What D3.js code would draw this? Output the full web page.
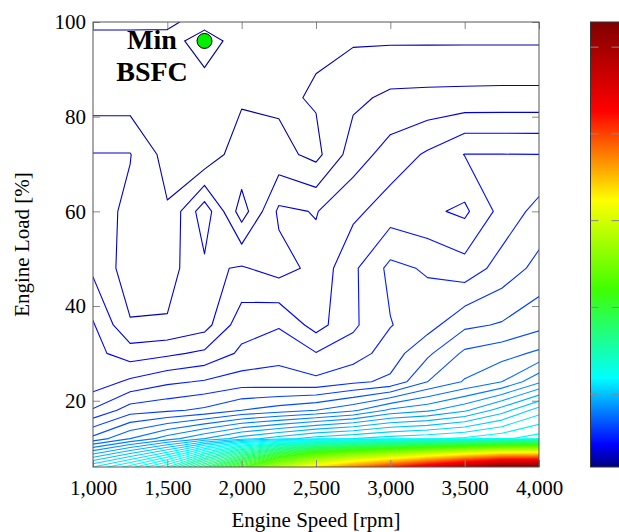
<!DOCTYPE html>
<html>
<head>
<meta charset="utf-8">
<script src="https://cdn.jsdelivr.net/npm/d3@7/dist/d3.min.js"></script>
<style>
  body { margin: 0; background: #fff; }
  text { font-family: "Liberation Serif", "Times New Roman", serif; }
</style>
</head>
<body>
<script>
// grid of the engine map
const speeds = [1000, 1250, 1500, 1750, 2000, 2250, 2500, 2750, 3000, 3250, 3500, 3750, 4000];
const loads = [6, 12, 18, 24, 30, 36, 48, 60, 72, 84, 96, 100];

// BSFC [g/kWh], one array per load row (same order as speeds)
const bsfcLoad6   = [420, 445, 480, 550, 640, 760, 870, 950, 1020, 1100, 1180, 1255, 1258];
const bsfcLoad12  = [333, 350, 365, 380, 395, 405, 415, 420, 425, 428, 432, 438, 445];
const bsfcLoad18  = [301, 315, 318, 322, 330, 335, 340, 348, 362, 368, 378, 395, 415];
const bsfcLoad24  = [284, 292, 298, 301, 305, 304, 302.6, 308, 312, 330, 341, 350, 368];
const bsfcLoad30  = [283, 275, 278, 282, 292, 297, 290.5, 295, 305, 318, 332, 336, 342];
const bsfcLoad36  = [281, 260.8, 261, 266, 286, 289, 276, 288.2, 299.5, 306, 317.8, 321, 326.9];
const bsfcLoad48  = [268, 255, 256, 268, 271, 266, 272.9, 288, 302.6, 298.8, 294, 304, 313.1];
const bsfcLoad60  = [264, 258, 251, 276, 245, 271.9, 269.5, 277.6, 285, 282, 278, 293.6, 303.5];
const bsfcLoad72  = [260.4, 260.4, 246, 241, 258, 253.4, 247, 265, 274.3, 281.4, 290.3, 290.2, 290.1];
const bsfcLoad84  = [245.2, 245.2, 247, 249, 248, 248, 251.1, 257.8, 262, 262.5, 262.8, 263, 263];
const bsfcLoad96  = [247, 247, 247, 232, 248, 248, 248.5, 249, 249, 249, 249, 249, 249];
const bsfcLoad100 = [252.2, 252.2, 252, 246, 248, 248.5, 249, 249, 249, 249, 249, 249, 249];

const bsfc = [bsfcLoad6, bsfcLoad12, bsfcLoad18, bsfcLoad24, bsfcLoad30, bsfcLoad36,
              bsfcLoad48, bsfcLoad60, bsfcLoad72, bsfcLoad84, bsfcLoad96, bsfcLoad100];

// contour levels and the marked optimum
const levels = d3.range(240, 1260, 10);
const minPoint = {speed: 1750, load: 96};
const xTicks = [1000, 1500, 2000, 2500, 3000, 3500, 4000];
const yTicks = [20, 40, 60, 80, 100];
const cbarTicks = [400, 600, 800, 1000, 1200];

const W = 619, H = 532;
const pLeft = 93, pRight = 539, pTop = 22, pBottom = 467;

const svg = d3.select("body").append("svg")
    .attr("width", W)
    .attr("height", H);

const x = d3.scaleLinear().domain([1000, 4000]).range([pLeft, pRight]);
const y = d3.scaleLinear().domain([6, 100]).range([pBottom, pTop]);

const zMin = d3.min(bsfc.flat()), zMax = d3.max(bsfc.flat());
const cmapStops = [0, 0.05, 0.2, 0.4, 0.6, 0.8, 1];
const cmapColors = ["#000080", "#0000ff", "#00ffff", "#40ff00", "#ffff00", "#ff0000", "#800000"];
const color = d3.scaleLinear()
    .domain(cmapStops.map(s => zMin + s * (zMax - zMin)))
    .range(cmapColors)
    .interpolate(d3.interpolateRgb);

// marching squares, straight segments inside each grid cell
function isoSegments(level) {
  const segs = [];
  const lerp = (p0, p1, v0, v1) => p0 + (level - v0) / (v1 - v0) * (p1 - p0);
  for (let j = 0; j < loads.length - 1; j++) {
    for (let i = 0; i < speeds.length - 1; i++) {
      const x0 = speeds[i], x1 = speeds[i + 1], y0 = loads[j], y1 = loads[j + 1];
      const a = bsfc[j][i], b = bsfc[j][i + 1], c = bsfc[j + 1][i + 1], d = bsfc[j + 1][i];
      const up = v => v >= level;
      const p = [null, null, null, null];
      if (up(a) !== up(b)) p[0] = [lerp(x0, x1, a, b), y0];
      if (up(b) !== up(c)) p[1] = [x1, lerp(y0, y1, b, c)];
      if (up(c) !== up(d)) p[2] = [lerp(x1, x0, c, d), y1];
      if (up(d) !== up(a)) p[3] = [x0, lerp(y1, y0, d, a)];
      const found = p.filter(q => q);
      if (found.length === 2) {
        segs.push(found);
      } else if (found.length === 4) {
        const centre = (a + b + c + d) / 4;
        if (up(centre) === up(a)) {
          segs.push([p[0], p[1]], [p[2], p[3]]);
        } else {
          segs.push([p[3], p[0]], [p[1], p[2]]);
        }
      }
    }
  }
  return segs;
}

svg.append("clipPath").attr("id", "plot-clip")
  .append("rect")
    .attr("x", pLeft).attr("y", pTop)
    .attr("width", pRight - pLeft).attr("height", pBottom - pTop);

const lines = svg.append("g").attr("clip-path", "url(#plot-clip)");

lines.selectAll("path")
  .data(levels)
  .join("path")
    .attr("d", lv => isoSegments(lv)
        .map(s => "M" + x(s[0][0]) + "," + y(s[0][1]) + "L" + x(s[1][0]) + "," + y(s[1][1]))
        .join(""))
    .attr("fill", "none")
    .attr("stroke", lv => color(lv))
    .attr("stroke-width", 1.1)
    .attr("stroke-linecap", "round");

// axes: ticks inside on all four sides
function styleAxis(g) {
  g.select(".domain").remove();
  g.selectAll(".tick line").attr("stroke", "#888");
  g.selectAll(".tick text").attr("fill", "#000").attr("font-size", 21)
    .style("font-family", "'Liberation Serif', serif");
}

svg.append("g")
    .attr("transform", `translate(0,${pBottom})`)
    .call(d3.axisBottom(x).tickValues(xTicks).tickSize(-7).tickPadding(13).tickFormat(d3.format(",")))
    .call(styleAxis);
svg.append("g")
    .attr("transform", `translate(0,${pTop})`)
    .call(d3.axisTop(x).tickValues(xTicks).tickSize(-7).tickFormat(""))
    .call(styleAxis);
svg.append("g")
    .attr("transform", `translate(${pLeft},0)`)
    .call(d3.axisLeft(y).tickValues(yTicks).tickSize(-7).tickPadding(7))
    .call(styleAxis);
svg.append("g")
    .attr("transform", `translate(${pRight},0)`)
    .call(d3.axisRight(y).tickValues(yTicks).tickSize(-7).tickFormat(""))
    .call(styleAxis);

svg.append("rect")
    .attr("x", pLeft).attr("y", pTop)
    .attr("width", pRight - pLeft).attr("height", pBottom - pTop)
    .attr("fill", "none")
    .attr("stroke", "#555")
    .attr("stroke-width", 1);

// minimum marker and its two-line label
svg.append("circle")
    .attr("cx", x(minPoint.speed))
    .attr("cy", y(minPoint.load))
    .attr("r", 7.5)
    .attr("fill", "#00ee00")
    .attr("stroke", "#000")
    .attr("stroke-width", 1);

const minLabel = svg.append("text")
    .attr("text-anchor", "middle")
    .attr("font-size", 28)
    .attr("font-weight", "bold");
minLabel.append("tspan").attr("x", 152).attr("y", 49).text("Min");
minLabel.append("tspan").attr("x", 152).attr("y", 80.5).text("BSFC");

// axis labels
svg.append("text")
    .attr("x", (pLeft + pRight) / 2).attr("y", 527)
    .attr("text-anchor", "middle")
    .attr("font-size", 21)
    .text("Engine Speed [rpm]");
svg.append("text")
    .attr("transform", `translate(29,${(pTop + pBottom) / 2}) rotate(-90)`)
    .attr("text-anchor", "middle")
    .attr("font-size", 21)
    .text("Engine Load [%]");

// colour bar
const cbX = 590.5, cbW = 30;
const cbY = d3.scaleLinear().domain([zMin, zMax]).range([pBottom, pTop]);

const grad = svg.append("defs").append("linearGradient")
    .attr("id", "cbar-grad")
    .attr("x1", 0).attr("y1", 1).attr("x2", 0).attr("y2", 0);
grad.selectAll("stop")
  .data(d3.range(0, 1.0001, 0.025))
  .join("stop")
    .attr("offset", d => d)
    .attr("stop-color", d => color(zMin + d * (zMax - zMin)));

svg.append("rect")
    .attr("x", cbX).attr("y", pTop)
    .attr("width", cbW).attr("height", pBottom - pTop)
    .attr("fill", "url(#cbar-grad)")
    .attr("stroke", "#333")
    .attr("stroke-width", 1);

svg.append("g")
  .selectAll("line")
  .data(cbarTicks)
  .join("line")
    .attr("x1", cbX).attr("x2", cbX + 8)
    .attr("y1", d => cbY(d)).attr("y2", d => cbY(d))
    .attr("stroke", "#888");
svg.append("g")
  .selectAll("line")
  .data(cbarTicks)
  .join("line")
    .attr("x1", cbX + 21).attr("x2", cbX + 29)
    .attr("y1", d => cbY(d)).attr("y2", d => cbY(d))
    .attr("stroke", "#888");
</script>
</body>
</html>
